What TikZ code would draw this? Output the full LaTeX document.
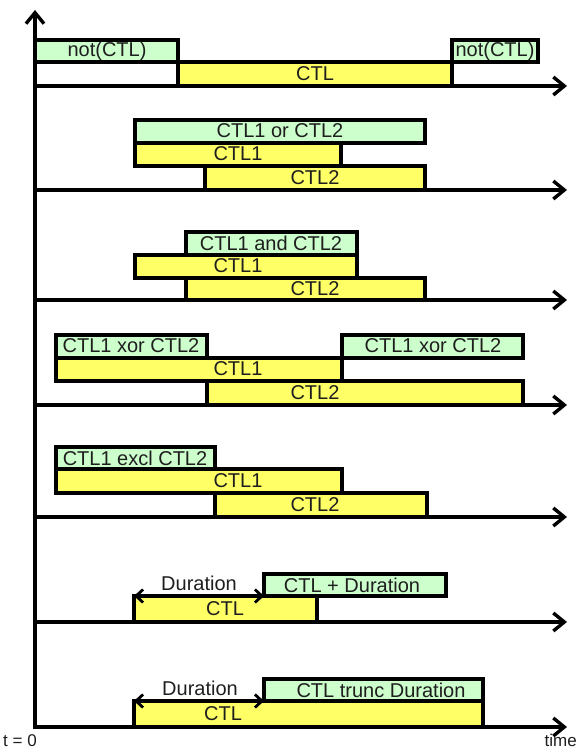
\documentclass[tikz,border=0pt]{standalone}
\usepackage{fontspec}
\setmainfont{Liberation Sans}
\usetikzlibrary{arrows.meta}
\definecolor{gfill}{HTML}{CCFFCC}
\definecolor{yfill}{HTML}{FFFF66}
\definecolor{ink}{HTML}{1E1E1E}
\newcommand\mybox[6]{\node[#1, minimum width={(#4-#2)*1pt}, minimum height={(#5-#3)*1pt}] (#6) at (#2,#3) {};}
\begin{document}
\begin{tikzpicture}[x=1pt,y=-1pt,
  bx/.style={draw=black, line width=3.2pt, inner sep=0pt, outer sep=0pt, anchor=north west},
  gbx/.style={bx, fill=gfill},
  ybx/.style={bx, fill=yfill},
  txt/.style={text=ink, inner sep=0pt, font=\fontsize{20}{22}\selectfont},
  axis/.style={line width=3.4pt, -{Straight Barb[length=11pt,width=18pt]}},
  darr/.style={line width=2.8pt, {Straight Barb[length=7pt,width=13pt]}-{Straight Barb[length=7pt,width=13pt]}}]
\useasboundingbox (0,0) rectangle (580,751);
% axes coordinates
\coordinate (v0) at (35,728.5);
\coordinate (vt) at (35,10);
\foreach \i/\yy in {1/86,2/190,3/300,4/405,5/517,6/622,7/727}{
  \coordinate (a\i) at (35,\yy);
  \coordinate (b\i) at (567,\yy);
}
% row 1
\mybox{gbx}{35}{40}{178}{62}{g1a}
\mybox{ybx}{178}{62}{452}{86}{y1}
\mybox{gbx}{452}{40}{538}{62}{g1b}
\node[txt] (tg1a) at (107,51) {not(CTL)};
\node[txt] (ty1) at (315,74) {CTL};
\node[txt] (tg1b) at (495,51) {not(CTL)};
% row 2
\mybox{gbx}{135}{120}{425}{143}{g2}
\mybox{ybx}{135}{143}{341}{166}{y2a}
\mybox{ybx}{205}{166}{425}{190}{y2b}
\node[txt] (tg2) at (280,131) {CTL1 or CTL2};
\node[txt] (ty2a) at (238,154) {CTL1};
\node[txt] (ty2b) at (315,178) {CTL2};
% row 3
\mybox{gbx}{186}{232}{357}{255}{g3}
\mybox{ybx}{135}{255}{357}{278}{y3a}
\mybox{ybx}{186}{278}{425}{300}{y3b}
\node[txt] (tg3) at (271,243) {CTL1 and CTL2};
\node[txt] (ty3a) at (238,266) {CTL1};
\node[txt] (ty3b) at (315,289) {CTL2};
% row 4
\mybox{gbx}{56}{335}{207}{358}{g4a}
\mybox{gbx}{342}{335}{523}{358}{g4b}
\mybox{ybx}{56}{358}{342}{381}{y4a}
\mybox{ybx}{207}{381}{523}{405}{y4b}
\node[txt] (tg4a) at (131,346) {CTL1 xor CTL2};
\node[txt] (tg4b) at (433,346) {CTL1 xor CTL2};
\node[txt] (ty4a) at (238,369) {CTL1};
\node[txt] (ty4b) at (315,393) {CTL2};
% row 5
\mybox{gbx}{56}{447}{215}{469}{g5}
\mybox{ybx}{56}{469}{342}{493}{y5a}
\mybox{ybx}{215}{493}{427}{517}{y5b}
\node[txt] (tg5) at (135,458) {CTL1 excl CTL2};
\node[txt] (ty5a) at (238,481) {CTL1};
\node[txt] (ty5b) at (315,505) {CTL2};
% row 6
\mybox{gbx}{264}{574}{446}{596}{g6}
\mybox{ybx}{134}{596}{317}{622}{y6}
\node[txt] (tg6) at (352,585) {CTL + Duration};
\node[txt] (ty6) at (225,609) {CTL};
\node[txt] (td6) at (199,583) {Duration};
% row 7
\mybox{gbx}{264}{679}{483}{701}{g7}
\mybox{ybx}{134}{701}{483}{727}{y7}
\node[txt] (tg7) at (381,690) {CTL trunc Duration};
\node[txt] (ty7) at (223,714) {CTL};
\node[txt] (td7) at (200,688) {Duration};
% duration arrows
\draw[darr] (y6.north west) -- (g6.south west);
\draw[darr] (y7.north west) -- (g7.south west);
% axes
\foreach \i in {1,...,7}{\draw[axis] (a\i) -- (b\i);}
\draw[axis] (v0) -- (vt);
% labels
\node[txt, font=\fontsize{17}{19}\selectfont, anchor=south west] (t0) at (3,747) {t = 0};
\node[txt, font=\fontsize{17}{19}\selectfont, anchor=south east] (tm) at (577,747) {time};
\end{tikzpicture}
\end{document}
